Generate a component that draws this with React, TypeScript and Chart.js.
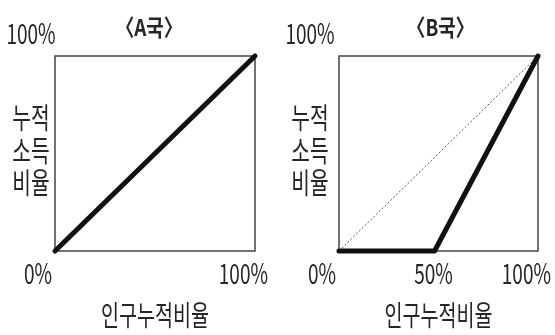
import React, { useEffect, useRef } from "react";
import { Chart, registerables } from "chart.js";

Chart.register(...registerables);

// ---- data ----
const panelTitles = ["〈A국〉", "〈B국〉"];
const populationA = [0, 100];
const incomeA = [0, 100];
const populationB = [0, 48, 100];
const incomeB = [0, 0, 100];
const equalityPopulation = [0, 100];
const equalityIncome = [0, 100];
const yTickValue = 100;
const yTickText = "100%";
const xTicksA = [0, 100];
const xTickLabelsA = ["0%", "100%"];
const xTicksB = [0, 50, 100];
const xTickLabelsB = ["0%", "50%", "100%"];
const yAxisTitleLines = ["누적", "소득", "비율"];
const xAxisTitle = "인구누적비율";

const FONT = "'Noto Sans CJK KR', 'Noto Sans', sans-serif";
const TEXT_COLOR = "#262626";

function drawText(
  ctx: CanvasRenderingContext2D,
  text: string,
  x: number,
  y: number,
  size: number,
  align: CanvasTextAlign,
  sx: number,
  bold = false
) {
  ctx.save();
  ctx.translate(x, y);
  ctx.scale(sx, 1);
  ctx.font = `${bold ? "bold " : ""}${size}px ${FONT}`;
  ctx.fillStyle = TEXT_COLOR;
  ctx.textAlign = align;
  ctx.textBaseline = "middle";
  ctx.fillText(text, 0, 0);
  ctx.restore();
}

type PanelProps = {
  left: number;
  width: number;
  padding: { left: number; right: number; top: number; bottom: number };
  title: string;
  xs: number[];
  ys: number[];
  showEquality: boolean;
  xTicks: number[];
  xTickLabels: string[];
  yTitleDx: number;
  titleDx: number;
};

function Panel(p: PanelProps) {
  const ref = useRef<HTMLCanvasElement | null>(null);
  useEffect(() => {
    if (!ref.current) return;
    const datasets: any[] = [
      {
        data: p.xs.map((x, i) => ({ x, y: p.ys[i] })),
        borderColor: "#111111",
        borderWidth: 5,
        pointRadius: 0,
        borderCapStyle: "round",
        borderJoinStyle: "round",
        clip: false,
        order: 0,
      },
    ];
    if (p.showEquality) {
      datasets.push({
        data: equalityPopulation.map((x, i) => ({ x, y: equalityIncome[i] })),
        borderColor: "#555555",
        borderWidth: 1,
        borderDash: [2, 2],
        pointRadius: 0,
        clip: false,
        order: 1,
      });
    }
    const frame = {
      id: "frame",
      beforeDatasetsDraw(chart: any) {
        const { ctx, chartArea: a } = chart;
        ctx.save();
        ctx.strokeStyle = "#444444";
        ctx.lineWidth = 1.5;
        ctx.strokeRect(a.left, a.top, a.right - a.left, a.bottom - a.top);
        ctx.restore();
      },
      afterDraw(chart: any) {
        const { ctx, chartArea: a } = chart;
        const xs = chart.scales.x;
        const ys = chart.scales.y;
        const cx = (a.left + a.right) / 2;
        // title
        drawText(ctx, p.title, cx + p.titleDx, a.top - 29, 23, "center", 0.82, true);
        // y tick
        drawText(ctx, yTickText, a.left + p.yTitleDx, ys.getPixelForValue(yTickValue) - 23, 28, "center", 0.68);
        // y axis title
        yAxisTitleLines.forEach((t, i) => {
          drawText(ctx, t, a.left + p.yTitleDx, a.top + 62 + i * 32.5, 29, "center", 0.7);
        });
        // x ticks
        p.xTicks.forEach((v, i) => {
          const px = xs.getPixelForValue(v);
          const last = i === p.xTicks.length - 1;
          const first = i === 0;
          if (first) drawText(ctx, p.xTickLabels[i], px - 3, a.bottom + 22, 28, "right", 0.68);
          else if (last) drawText(ctx, p.xTickLabels[i], px + 13, a.bottom + 22, 28, "right", 0.68);
          else drawText(ctx, p.xTickLabels[i], px - 5, a.bottom + 22, 28, "center", 0.68);
        });
        // x axis title
        drawText(ctx, xAxisTitle, cx, a.bottom + 64, 28, "center", 0.7);
      },
    };
    const chart = new Chart(ref.current, {
      type: "line",
      data: { datasets },
      options: {
        animation: false,
        responsive: false,
        maintainAspectRatio: false,
        layout: { padding: p.padding },
        plugins: { legend: { display: false }, tooltip: { enabled: false } },
        scales: {
          x: { type: "linear", min: 0, max: 100, display: false },
          y: { type: "linear", min: 0, max: 100, display: false },
        },
      },
      plugins: [frame],
    });
    return () => chart.destroy();
  }, []);
  return (
    <canvas
      ref={ref}
      width={p.width}
      height={335}
      style={{ position: "absolute", left: p.left, top: 0, width: p.width, height: 335 }}
    />
  );
}

export default function App() {
  return (
    <div style={{ position: "fixed", left: 0, top: 0, width: 555, height: 335, background: "#ffffff" }}>
      <Panel
        left={0}
        width={280}
        padding={{ left: 55, right: 25, top: 56, bottom: 84 }}
        title={panelTitles[0]}
        xs={populationA}
        ys={incomeA}
        showEquality={false}
        xTicks={xTicksA}
        xTickLabels={xTickLabelsA}
        yTitleDx={-24}
        titleDx={-6}
      />
      <Panel
        left={280}
        width={275}
        padding={{ left: 59, right: 17, top: 56, bottom: 84 }}
        title={panelTitles[1]}
        xs={populationB}
        ys={incomeB}
        showEquality={true}
        xTicks={xTicksB}
        xTickLabels={xTickLabelsB}
        yTitleDx={-29}
        titleDx={2}
      />
    </div>
  );
}
